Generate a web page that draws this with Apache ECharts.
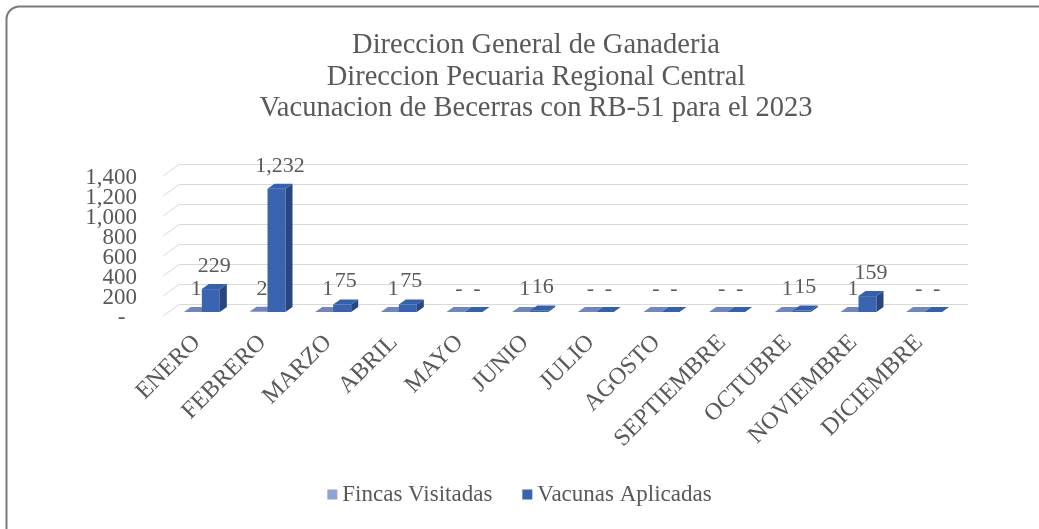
<!DOCTYPE html>
<html>
<head>
<meta charset="utf-8">
<script src="https://cdn.jsdelivr.net/npm/echarts@6/dist/echarts.min.js"></script>
<style>
html,body{margin:0;padding:0;background:#fff;}
#chart{width:1039px;height:529px;}
</style>
</head>
<body>
<div id="chart"></div>
<script>
// ---- data ----
const categories = ['ENERO','FEBRERO','MARZO','ABRIL','MAYO','JUNIO','JULIO','AGOSTO','SEPTIEMBRE','OCTUBRE','NOVIEMBRE','DICIEMBRE'];
const fincasVisitadas = [1, 2, 1, 1, 0, 1, 0, 0, 0, 1, 1, 0];
const vacunasAplicadas = [229, 1232, 75, 75, 0, 16, 0, 0, 0, 15, 159, 0];
const yTicks = [0, 200, 400, 600, 800, 1000, 1200, 1400];
const seriesNames = ['Fincas Visitadas', 'Vacunas Aplicadas'];
const titleLines = ['Direccion General de Ganaderia', 'Direccion Pecuaria Regional Central', 'Vacunacion de Becerras con RB-51 para el 2023'];

// ---- style ----
const FONT = '"Liberation Serif", "Times New Roman", serif';
const TXT = '#595959';
const GRIDC = '#d9d9d9';
const OFF_X = -11, OFF_Y = 8;      // bar row offset from back wall
const DEP_X = 7, DEP_Y = -5;       // bar depth
const BW = 18;
const palette = [
  {front: '#8FA5D5', top: '#7186BA', side: '#5D709F', legend: '#8FA4D3'},
  {front: '#3A64B0', top: '#3560AA', side: '#284780', legend: '#3A63AE'}
];

function fmt(v) { return v === 0 ? '-' : v.toLocaleString('en-US'); }

function makeRender(si) {
  const c = palette[si];
  return function (params, api) {
    const cat = api.value(0), val = api.value(1);
    const base = api.coord([cat, 0]);
    const top = api.coord([cat, val]);
    const x0 = base[0] + OFF_X + (si === 0 ? -BW : 0);
    const x1 = x0 + BW;
    const yb = base[1] + OFF_Y;
    const yt = top[1] + OFF_Y;
    const children = [];
    if (yb - yt > 0.5) {
      children.push({type: 'rect', shape: {x: x0, y: yt, width: BW, height: yb - yt}, style: {fill: c.front}});
      children.push({type: 'polygon', shape: {points: [[x1, yt], [x1 + DEP_X, yt + DEP_Y], [x1 + DEP_X, yb + DEP_Y], [x1, yb]]}, style: {fill: c.side}});
    }
    children.push({type: 'polygon', shape: {points: [[x0, yt], [x1, yt], [x1 + DEP_X, yt + DEP_Y], [x0 + DEP_X, yt + DEP_Y]]}, style: {fill: c.top}});
    children.push({
      type: 'text', z2: 100,
      style: {
        x: (x0 + x1) / 2 + DEP_X / 2, y: yt + DEP_Y - 7,
        text: fmt(val), align: 'center', verticalAlign: 'bottom',
        font: '22px ' + FONT, fill: TXT
      }
    });
    return {type: 'group', children: children};
  };
}

const chart = echarts.init(document.getElementById('chart'));
chart.setOption({
  animation: false,
  backgroundColor: '#fff',
  title: {
    text: titleLines.join('\n'),
    left: 531, textAlign: 'center', top: 25,
    textStyle: {fontFamily: FONT, fontSize: 28.5, fontWeight: 'normal', color: TXT, lineHeight: 31.5}
  },
  legend: {
    bottom: 18, left: 'center',
    itemWidth: 10, itemHeight: 10, itemGap: 30,
    textStyle: {fontFamily: FONT, fontSize: 23, color: TXT},
    data: seriesNames.map((n, i) => ({name: n, icon: 'rect', itemStyle: {color: palette[i].legend}}))
  },
  graphic: [{
    type: 'rect', left: 4, top: 4, silent: true,
    shape: {width: 1060, height: 560, r: 13},
    style: {fill: 'none', stroke: '#7a7a7a', lineWidth: 2}
  }],
  grid: [
    {left: 180, top: 164, width: 788, height: 140},
    {left: 164, top: 178, width: 788, height: 140}
  ],
  xAxis: [
    {gridIndex: 0, type: 'category', data: categories, axisLine: {show: false}, axisTick: {show: false}, axisLabel: {show: false}},
    {gridIndex: 1, type: 'category', data: categories, axisLine: {show: false}, axisTick: {show: false},
      axisLabel: {rotate: 45, margin: 21, interval: 0, fontFamily: FONT, fontSize: 24, color: TXT}}
  ],
  yAxis: [
    {gridIndex: 0, type: 'value', min: 0, max: 1400, interval: 200,
      axisLabel: {show: false}, axisLine: {show: false}, axisTick: {show: false},
      splitLine: {lineStyle: {color: GRIDC, width: 1}}},
    {gridIndex: 1, type: 'value', min: 0, max: 1400, interval: 200,
      axisLine: {show: false}, axisTick: {show: false}, splitLine: {show: false},
      axisLabel: {show: false}}
  ],
  series: [
    {
      type: 'custom', name: 'stubs', xAxisIndex: 0, yAxisIndex: 0, silent: true,
      data: yTicks.map(v => [0, v]),
      renderItem: function (params, api) {
        const p = api.coord([0, api.value(1)]);
        const x = params.coordSys.x;
        return {type: 'line', shape: {x1: x - 17, y1: p[1] + 12, x2: x, y2: p[1]}, style: {stroke: GRIDC, lineWidth: 1}};
      }
    },
    {
      type: 'custom', name: 'ylabels', xAxisIndex: 1, yAxisIndex: 1, silent: true,
      data: yTicks.map(v => [0, v]),
      renderItem: function (params, api) {
        const v = api.value(1);
        const p = api.coord([0, v]);
        const x = params.coordSys.x;
        return {type: 'text', style: {
          x: x - 27, y: p[1], align: 'right', verticalAlign: 'middle',
          text: v === 0 ? '-  ' : v.toLocaleString('en-US'),
          font: '23px ' + FONT, fill: TXT
        }};
      }
    },
    {
      type: 'custom', name: seriesNames[0], xAxisIndex: 0, yAxisIndex: 0, silent: true,
      itemStyle: {color: palette[0].legend},
      data: fincasVisitadas.map((v, i) => [i, v]),
      encode: {x: 0, y: 1},
      renderItem: makeRender(0)
    },
    {
      type: 'custom', name: seriesNames[1], xAxisIndex: 0, yAxisIndex: 0, silent: true,
      itemStyle: {color: palette[1].legend},
      data: vacunasAplicadas.map((v, i) => [i, v]),
      encode: {x: 0, y: 1},
      renderItem: makeRender(1)
    }
  ]
});
</script>
</body>
</html>
